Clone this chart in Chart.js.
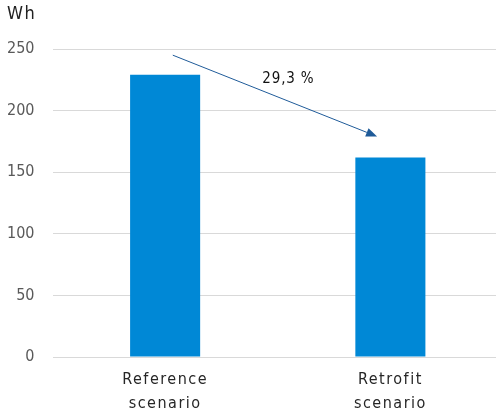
<!DOCTYPE html>
<html lang="en">
<head>
    <meta charset="UTF-8">
    <title>Wh per scenario</title>
    <script src="https://cdn.jsdelivr.net/npm/chart.js"></script>
    <style>
        body {
            margin: 0;
            background: #ffffff;
            overflow: hidden;
        }
        /* a bit wider than the window: the plot runs past the right edge */
        #wrap {
            width: 503px;
            height: 412px;
        }
    </style>
</head>
<body>
    <div id="wrap"><canvas id="energyChart"></canvas></div>

    <script>
        const categories = [['Reference', 'scenario'], ['Retrofit', 'scenario']];
        const energyWh = [229, 162];
        const yTicks = [0, 50, 100, 150, 200, 250];
        const unitLabel = 'Wh';
        const reductionLabel = '29,3 %';
        // arrow endpoints as [fraction of the way from bar 1 to bar 2, value]
        const arrowFrom = [0.034, 245];
        const arrowTo = [0.941, 179];
        const labelAt = [0.547, 225.5];

        const FONT = '"DejaVu Sans Condensed", "DejaVu Sans", sans-serif';

        const extras = {
            id: 'extras',
            beforeDraw(chart) {
                chart.ctx.letterSpacing = '0px';
            },
            afterDatasetsDraw(chart) {
                // x labels are drawn after the datasets (ticks z: 1)
                chart.ctx.letterSpacing = '1.5px';
            },
            afterDraw(chart) {
                const ctx = chart.ctx;
                const x = chart.scales.x, y = chart.scales.y;
                const x0 = x.getPixelForValue(0);
                const dx = x.getPixelForValue(1) - x0;
                ctx.save();
                ctx.letterSpacing = '1.5px';
                ctx.fillStyle = '#222222';
                ctx.font = '18px ' + FONT;
                ctx.textBaseline = 'middle';
                ctx.textAlign = 'left';
                ctx.fillText(unitLabel, 7, 14);

                const x1 = x0 + arrowFrom[0] * dx, y1 = y.getPixelForValue(arrowFrom[1]);
                const x2 = x0 + arrowTo[0] * dx, y2 = y.getPixelForValue(arrowTo[1]);
                const ang = Math.atan2(y2 - y1, x2 - x1);
                const head = 11, half = 4.5;
                const bx = x2 - head * Math.cos(ang), by = y2 - head * Math.sin(ang);
                ctx.strokeStyle = '#1f5b99';
                ctx.fillStyle = '#1f5b99';
                ctx.lineWidth = 1;
                ctx.beginPath();
                ctx.moveTo(x1, y1);
                ctx.lineTo(bx, by);
                ctx.stroke();
                ctx.beginPath();
                ctx.moveTo(x2, y2);
                ctx.lineTo(bx + half * Math.sin(ang), by - half * Math.cos(ang));
                ctx.lineTo(bx - half * Math.sin(ang), by + half * Math.cos(ang));
                ctx.closePath();
                ctx.fill();

                ctx.letterSpacing = '0.8px';
                ctx.fillStyle = '#111111';
                ctx.font = '15px ' + FONT;
                ctx.textAlign = 'center';
                ctx.fillText(reductionLabel, x0 + labelAt[0] * dx, y.getPixelForValue(labelAt[1]));
                ctx.restore();
            }
        };

        const ctx = document.getElementById('energyChart').getContext('2d');
        const energyChart = new Chart(ctx, {
            type: 'bar',
            data: {
                labels: categories,
                datasets: [{
                    data: energyWh,
                    backgroundColor: '#0088d6',
                    barPercentage: 0.311,
                    categoryPercentage: 1.0
                }]
            },
            options: {
                responsive: true,
                maintainAspectRatio: false,
                animation: false,
                layout: {
                    padding: { top: 49, left: 7, right: 0, bottom: 0 }
                },
                plugins: {
                    legend: { display: false },
                    tooltip: { enabled: false }
                },
                scales: {
                    x: {
                        afterFit(axis) { axis.height = 55; },
                        grid: { display: false },
                        border: { display: false },
                        ticks: {
                            z: 1,
                            color: '#262626',
                            font: { family: FONT, size: 16, lineHeight: 1.5 },
                            padding: 3,
                            maxRotation: 0
                        }
                    },
                    y: {
                        min: 0,
                        max: 250,
                        afterBuildTicks(axis) {
                            axis.ticks = yTicks.map(v => ({ value: v }));
                        },
                        afterFit(axis) { axis.width = 45.5; },
                        grid: { color: '#d9d9d9', drawTicks: false },
                        border: { display: false },
                        ticks: {
                            color: '#595959',
                            font: { family: FONT, size: 16 },
                            padding: 18
                        }
                    }
                }
            },
            plugins: [extras]
        });
    </script>
</body>
</html>
